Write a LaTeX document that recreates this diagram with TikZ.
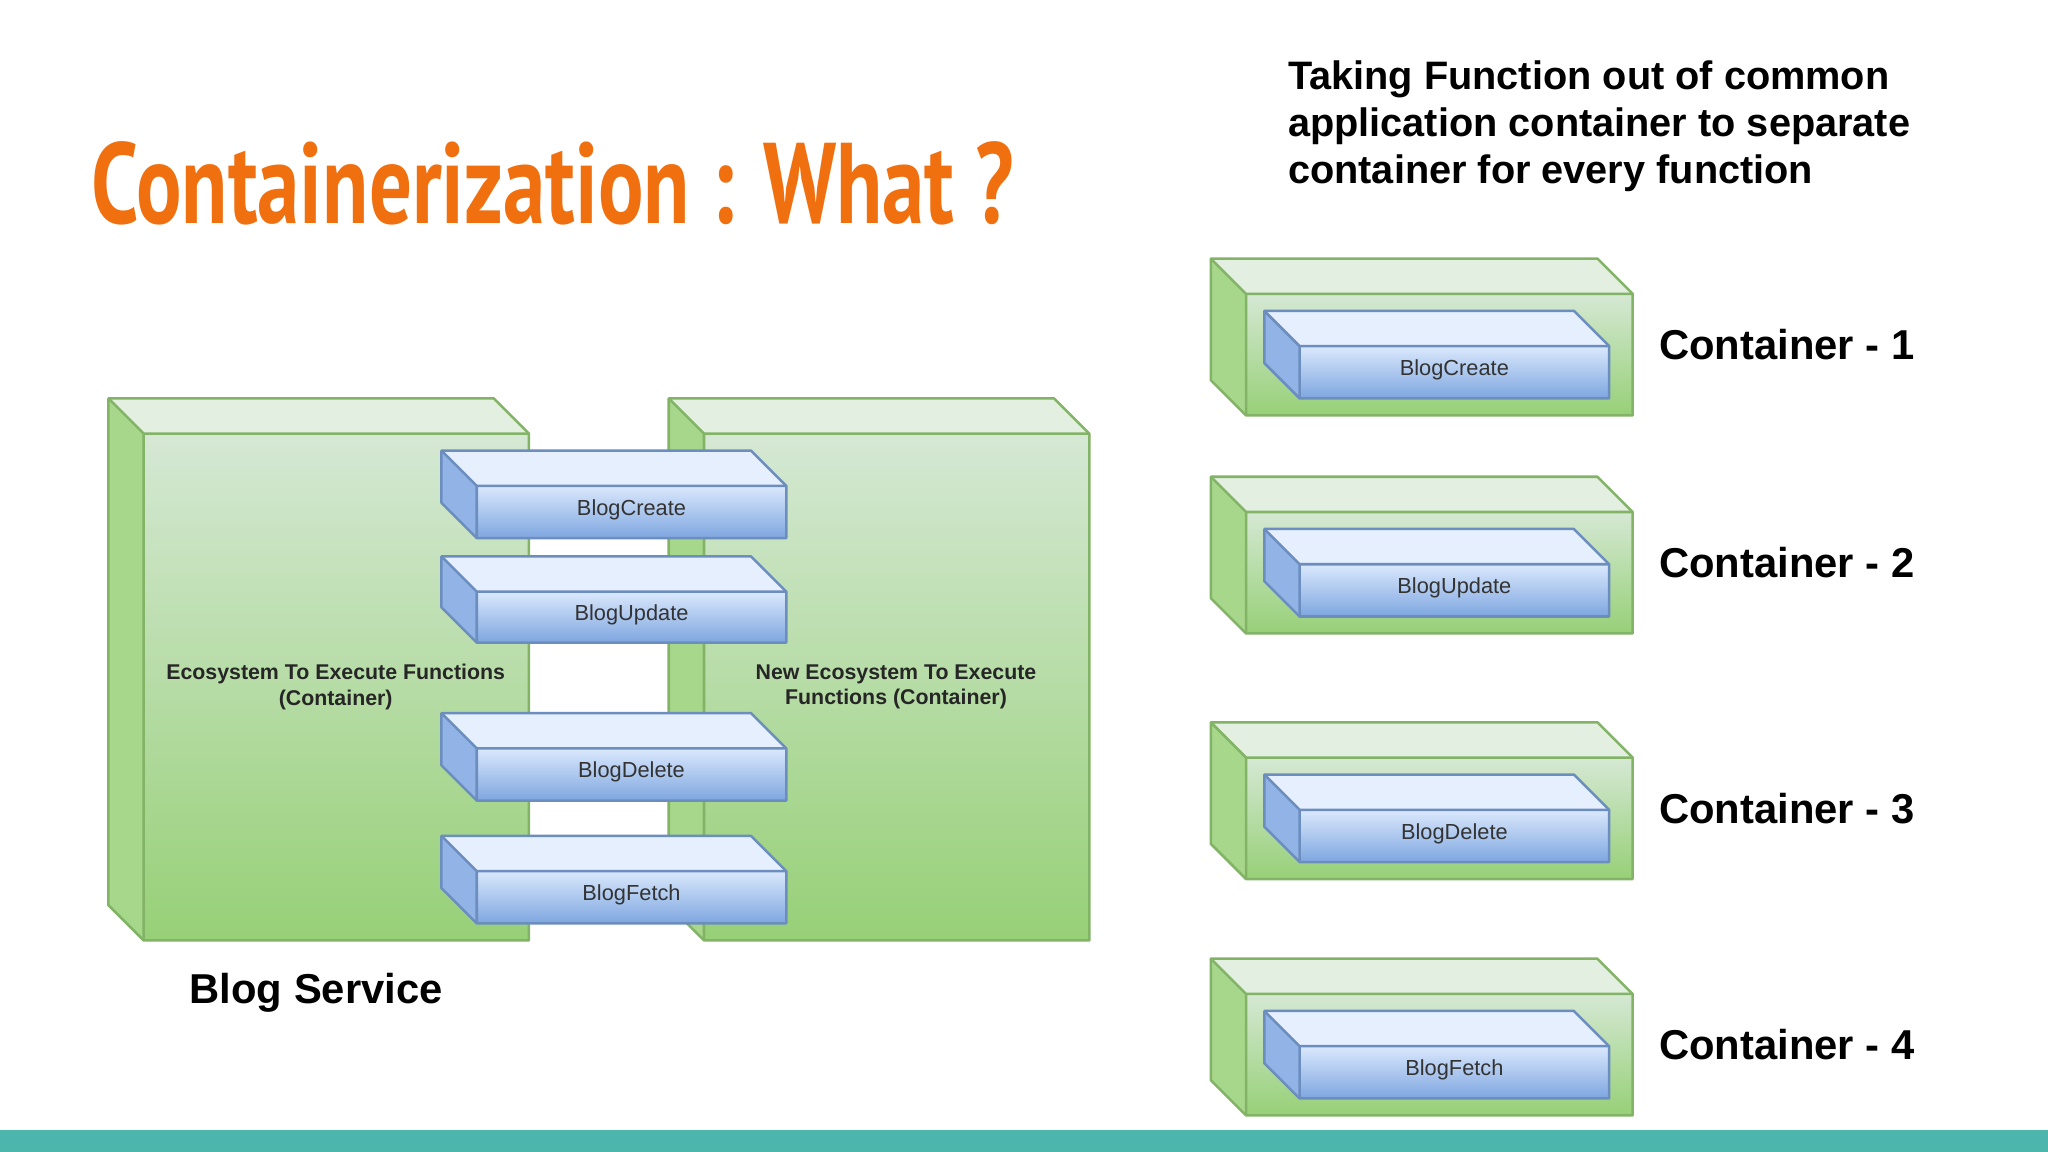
\documentclass[tikz,border=0pt]{standalone}
\usepackage{fontspec}
\setmainfont{Liberation Sans}
\newfontfamily\titlefont{PT Sans}
\usetikzlibrary{calc}
\definecolor{gtop}{HTML}{D5E8D4}\definecolor{gbot}{HTML}{97D077}\definecolor{gline}{HTML}{82B366}
\definecolor{btop}{HTML}{DAE8FC}\definecolor{bbot}{HTML}{7EA6E0}\definecolor{bline}{HTML}{6C8EBF}
\definecolor{orng}{HTML}{F07010}\definecolor{teal}{HTML}{4DB6AC}
% #1 name #2 x1 #3 y1 #4 x2 #5 y2 #6 d #7 prefix(g/b) #8 label #9 label options
\newcommand{\mycube}[9]{%
  \fill[#7top!70!white] (#2,#3) -- ({#4-#6},#3) -- (#4,{#3+#6}) -- ({#2+#6},{#3+#6}) -- cycle;
  \fill[#7bot!85!white] (#2,#3) -- ({#2+#6},{#3+#6}) -- ({#2+#6},#5) -- (#2,{#5-#6}) -- cycle;
  \shade[top color=#7top, bottom color=#7bot] ({#2+#6},{#3+#6}) rectangle (#4,#5);
  \draw[#7line, line width=1.1pt, line join=round] (#2,#3) -- ({#4-#6},#3) -- (#4,{#3+#6}) -- (#4,#5) -- ({#2+#6},#5) -- (#2,{#5-#6}) -- cycle;
  \draw[#7line, line width=1.1pt] (#2,#3) -- ({#2+#6},{#3+#6}) -- (#4,{#3+#6}) ({#2+#6},{#3+#6}) -- ({#2+#6},#5);
  \node[#9] (#1) at ({(#2+#6+#4)/2},{(#3+#6+#5)/2}) {#8};}
\begin{document}
\begin{tikzpicture}[x=0.02cm,y=-0.02cm,
  flab/.style={font=\fontsize{9.5pt}{11pt}\selectfont, text=black!80, yshift=1pt},
  elab/.style={font=\bfseries\fontsize{9.3pt}{11pt}\selectfont, align=center, text=black!85},
  clab/.style={font=\bfseries\fontsize{18.2pt}{22pt}\selectfont, anchor=west}]
\useasboundingbox (0,0) rectangle (1568,882);
\fill[white] (0,0) rectangle (1568,882);
\fill[teal] (0,865) rectangle (1568,882);
\node[anchor=west, text=orng, inner sep=0pt] (title) at (70,140) {\scalebox{0.74}[1]{\titlefont\bfseries\fontsize{50pt}{56pt}\selectfont Containerization : What ?}};
\node[anchor=north west, align=left, font=\bfseries\fontsize{17.3pt}{20.5pt}\selectfont] (desc) at (980,40) {Taking Function out of common\\application container to separate\\container for every function};
\mycube{c1}{83}{305}{405}{720}{27}{g}{}{}
\node[elab] (e1) at (257,526) {Ecosystem To Execute Functions\\(Container)};
\mycube{c2}{512}{305}{834}{720}{27}{g}{}{}
\node[elab] (e2) at (686,526) {New Ecosystem To Execute\\Functions (Container)};
\mycube{b1}{338}{345}{602}{412}{27}{b}{BlogCreate}{flab}
\mycube{b2}{338}{426}{602}{492}{27}{b}{BlogUpdate}{flab}
\mycube{b3}{338}{546}{602}{613}{27}{b}{BlogDelete}{flab}
\mycube{b4}{338}{640}{602}{707}{27}{b}{BlogFetch}{flab}
\node[anchor=west, font=\bfseries\fontsize{18.2pt}{22pt}\selectfont] (bs) at (139,760) {Blog Service};
\foreach \i/\y/\f in {1/198/BlogCreate,2/365/BlogUpdate,3/553/BlogDelete,4/734/BlogFetch}{
  \mycube{k\i}{927}{\y}{1250}{\y+120}{27}{g}{}{}
  \mycube{f\i}{968}{\y+40}{1232}{\y+107}{27}{b}{\f}{flab}
  \node[clab] (t\i) at (1264,\y+66) {Container - \i};
}
\end{tikzpicture}
\end{document}
